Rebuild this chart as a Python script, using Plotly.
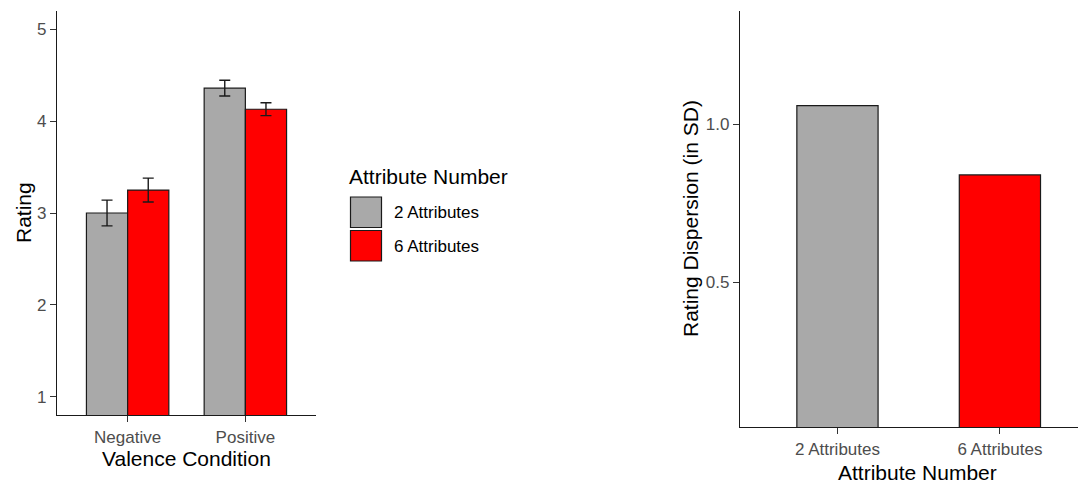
import plotly.graph_objects as go

# ---- data ----
conditions = ["Negative", "Positive"]
group_names = ["2 Attributes", "6 Attributes"]
rating_2 = [3.00, 4.36]
rating_6 = [3.25, 4.13]
se_2 = [0.14, 0.085]
se_6 = [0.13, 0.07]
disp_cats = ["2 Attributes", "6 Attributes"]
dispersion = [1.06, 0.84]
fill_colors = ["#A9A9A9", "#FF0000"]

# page has an 8px body margin; compensate so figure fills the window
OFF = 8
W, H = 1086 - OFF, 487 - OFF
FONT = "Liberation Sans, Arial, sans-serif"

def px(x):
    return (x - OFF) / W

def py(y):
    return 1 - (y - OFF) / H

fig = go.Figure()

for name, vals, se, col in zip(group_names, [rating_2, rating_6], [se_2, se_6], fill_colors):
    fig.add_trace(go.Bar(
        x=conditions, y=vals, name=name, xaxis="x", yaxis="y",
        marker=dict(color=col, line=dict(color="#1a1a1a", width=1.2)),
        error_y=dict(type="data", array=se, color="#1a1a1a", thickness=1.4, width=5.5),
        showlegend=False,
    ))

fig.add_trace(go.Bar(
    x=disp_cats, y=dispersion, xaxis="x2", yaxis="y2", width=0.5,
    marker=dict(color=fill_colors, line=dict(color="#1a1a1a", width=1.2)),
    showlegend=False,
))

axis_common = dict(
    showline=True, linecolor="#1a1a1a", linewidth=1.2, ticks="outside",
    tickcolor="#333333", ticklen=6, tickwidth=1.1, showgrid=False, zeroline=False,
    tickfont=dict(family=FONT, size=17, color="#4D4D4D"), fixedrange=True,
)

fig.update_layout(
    width=W, height=H,
    margin=dict(l=0, r=0, t=0, b=0),
    paper_bgcolor="white", plot_bgcolor="white",
    barmode="group", bargap=0.3, bargroupgap=0,
    font=dict(family=FONT),
    xaxis=dict(domain=[px(57), px(316)], anchor="y", range=[-0.6, 1.6], type="category", **axis_common),
    yaxis=dict(domain=[py(415), py(11)], anchor="x", range=[0.8, 5.2], tickvals=[1, 2, 3, 4, 5], **axis_common),
    xaxis2=dict(domain=[px(740), 1.0], anchor="y2", range=[-0.6, 1.53], type="category", **axis_common),
    yaxis2=dict(domain=[py(427), py(11)], anchor="x2", range=[0.04, 1.36], tickvals=[0.5, 1.0],
                tickformat=".1f", **axis_common),
)

ann = []
def add_text(text, x, y, size, xanchor="center", angle=0, color="black"):
    ann.append(dict(text=text, x=px(x), y=py(y), xref="paper", yref="paper",
                    xanchor=xanchor, yanchor="middle", showarrow=False, textangle=angle,
                    font=dict(family=FONT, size=size, color=color)))

add_text("Rating", 23, 213, 21, angle=-90)
add_text("Valence Condition", 186.5, 458, 21)
add_text("Rating Dispersion (in SD)", 690, 219, 21, angle=-90)
add_text("Attribute Number", 917, 472, 21)

# legend (manual, ggplot-style keys)
add_text("Attribute Number", 347, 176, 21, xanchor="left")
shapes = []
key_tops = [197, 230.5]
for top, name, col in zip(key_tops, group_names, fill_colors):
    shapes.append(dict(type="rect", xref="paper", yref="paper",
                       x0=px(350.5), x1=px(381.5), y0=py(top + 30.5), y1=py(top),
                       fillcolor=col, line=dict(color="#1a1a1a", width=1.2)))
    add_text(name, 391.5, top + 15.5, 17, xanchor="left")

fig.update_layout(annotations=ann, shapes=shapes)

fig.write_html("out.html")
